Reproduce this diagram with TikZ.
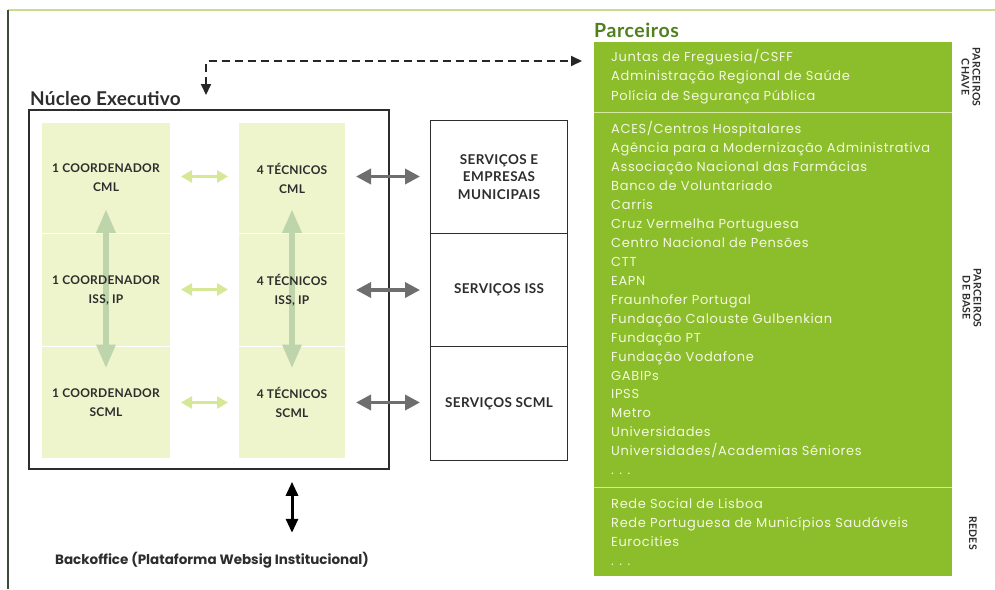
\documentclass[tikz,border=0pt]{standalone}
\usepackage{fontspec}
\setmainfont{Lato}
\newfontfamily\geo{Poppins}
\usetikzlibrary{arrows.meta}
\definecolor{panelgreen}{RGB}{139,190,42}
\definecolor{titlegreen}{RGB}{80,128,30}
\definecolor{cellfill}{RGB}{238,244,204}
\definecolor{lightarr}{RGB}{214,232,150}
\definecolor{varr}{RGB}{190,212,170}
\definecolor{grayarr}{RGB}{110,110,110}
\definecolor{paneltext}{RGB}{244,248,224}
\definecolor{divider}{RGB}{214,232,160}
\definecolor{framegreen}{RGB}{200,220,140}
\definecolor{framedark}{RGB}{60,75,60}
\definecolor{inkdark}{RGB}{45,45,45}
\tikzset{
  cell/.style={fill=cellfill, draw=white, line width=1, inner sep=0, anchor=north west, minimum width=#1},
  ctext/.style={align=center, text=inkdark, inner sep=0, font=\bfseries\addfontfeatures{LetterSpace=2}\fontsize{12}{19}\selectfont},
  svc/.style={draw=inkdark, line width=1.1, inner sep=0, anchor=north west, minimum width=137, align=center, text=inkdark, font=\bfseries\addfontfeatures{LetterSpace=3}\fontsize{13.5}{17.5}\selectfont},
  ptext/.style={anchor=west, inner sep=0, text height=9, text depth=3, text=paneltext, font=\geo\addfontfeatures{LetterSpace=5}\fontsize{13}{14}\selectfont},
  rot/.style={rotate=-90, align=center, inner sep=0, text=inkdark, font=\bfseries\addfontfeatures{LetterSpace=3}\fontsize{10.5}{11}\selectfont},
  lightarrow/.style={lightarr, line width=3.5, shorten <=10, shorten >=10, {Triangle[length=11,width=12]}-{Triangle[length=11,width=12]}},
  grayarrow/.style={grayarr, line width=3.5, shorten <=10, shorten >=10, {Triangle[length=15,width=15]}-{Triangle[length=15,width=15]}},
  varrow/.style={varr, line width=6, {Triangle[length=24,width=18]}-{Triangle[length=24,width=18]}},
  blkarrow/.style={black, line width=3, {Triangle[length=14,width=12]}-{Triangle[length=14,width=12]}},
  dasharrow/.style={black!85, line width=2, dash pattern=on 8pt off 5pt, {Triangle[length=11,width=10]}-{Triangle[length=11,width=10]}},
}
\begin{document}
\begin{tikzpicture}[x=1pt,y=-1pt]
\useasboundingbox (0,0) rectangle (995,589);
\fill[white] (0,0) rectangle (995,589);
% outer frame
\draw[framegreen, line width=1.5] (8,10) -- (995,10);
\draw[framedark, line width=1.5] (8,10) -- (8,589);

% Nucleo executivo
\node[anchor=west, inner sep=0, text=inkdark, font=\bfseries\addfontfeatures{LetterSpace=1}\fontsize{19}{21}\selectfont] (ntitle) at (30,99) {Núcleo Executivo};
\node[draw=inkdark, line width=1.8, inner sep=0, anchor=north west, minimum width=360, minimum height=359] (nucleo) at (28,109) {};

\node[cell=129, minimum height=111] (c1) at (41,122) {};
\node[cell=129, minimum height=113] (c2) at (41,233) {};
\node[cell=129, minimum height=112] (c3) at (41,346) {};
\node[cell=107, minimum height=111] (t1) at (238,122) {};
\node[cell=107, minimum height=113] (t2) at (238,233) {};
\node[cell=107, minimum height=112] (t3) at (238,346) {};

\draw[varrow] ([yshift=-31pt]c1.center) -- ([yshift=34pt]c3.center);
\draw[varrow] ([yshift=-31pt]t1.center) -- ([yshift=34pt]t3.center);

\node[ctext] (c1t) at (c1.center) {1 COORDENADOR\\CML};
\node[ctext] (c2t) at (c2.center) {1 COORDENADOR\\ISS, IP};
\node[ctext] (c3t) at (c3.center) {1 COORDENADOR\\SCML};
\node[ctext] (t1t) at (t1.center) {4 TÉCNICOS\\CML};
\node[ctext] (t2t) at (t2.center) {4 TÉCNICOS\\ISS, IP};
\node[ctext] (t3t) at (t3.center) {4 TÉCNICOS\\SCML};

\draw[lightarrow] ([yshift=1.5pt]c1.east) -- ([yshift=1.5pt]c1.east -| t1.west);
\draw[lightarrow] ([yshift=0.5pt]c2.east) -- ([yshift=0.5pt]c2.east -| t2.west);
\draw[lightarrow] (c3.east) -- (c3.east -| t3.west);

% services
\node[svc, minimum height=113] (s1) at (430,120) {SERVIÇOS E\\EMPRESAS\\MUNICIPAIS};
\node[svc, minimum height=113] (s2) at (430,233) {SERVIÇOS ISS};
\node[svc, minimum height=114] (s3) at (430,346) {SERVIÇOS SCML};

\draw[grayarrow] ([yshift=1.5pt]t1.east) -- ([yshift=1.5pt]t1.east -| s1.west);
\draw[grayarrow] (t2.east) -- (t2.east -| s2.west);
\draw[grayarrow] (t3.east) -- (t3.east -| s3.west);

% backoffice
\node[inner sep=0, text=inkdark, font=\geo\bfseries\fontsize{13.5}{15}\selectfont] (bo) at (212,560) {Backoffice (Plataforma Websig Institucional)};
\path (t3.south |- nucleo.south) coordinate (bo1);
\path (t3.south |- bo.north) coordinate (bo2);
\draw[blkarrow] ([yshift=-12pt]bo1) -- ([yshift=19pt]bo2);

% Parceiros
\node[anchor=west, inner sep=0, text=titlegreen, font=\bfseries\addfontfeatures{LetterSpace=3}\fontsize{19.5}{21}\selectfont] (ptitle) at (594,30) {Parceiros};
\node[fill=panelgreen, inner sep=0, anchor=north west, minimum width=358, minimum height=534] (panel) at (594,42) {};
\draw[divider, line width=0.9] (594,112) -- (952,112);
\draw[divider, line width=0.9] (594,487) -- (952,487);

\coordinate (dd) at (206,95);
\coordinate (dr) at (582,61);
\draw[dasharrow] (dd) |- (dr);

\node[ptext] (p1) at (611,58) {Juntas de Freguesia/CSFF};
\node[ptext] (p2) at (611,77.5) {Administração Regional de Saúde};
\node[ptext] (p3) at (611,97) {Polícia de Segurança Pública};
\node[ptext] (p4) at (611,130) {ACES/Centros Hospitalares};
\node[ptext] (p5) at (611,149) {Agência para a Modernização Administrativa};
\node[ptext] (p6) at (611,168) {Associação Nacional das Farmácias};
\node[ptext] (p7) at (611,187) {Banco de Voluntariado};
\node[ptext] (p8) at (611,206) {Carris};
\node[ptext] (p9) at (611,225) {Cruz Vermelha Portuguesa};
\node[ptext] (p10) at (611,244) {Centro Nacional de Pensões};
\node[ptext] (p11) at (611,263) {CTT};
\node[ptext] (p12) at (611,282) {EAPN};
\node[ptext] (p13) at (611,301) {Fraunhofer Portugal};
\node[ptext] (p14) at (611,320) {Fundação Calouste Gulbenkian};
\node[ptext] (p15) at (611,339) {Fundação PT};
\node[ptext] (p16) at (611,358) {Fundação Vodafone};
\node[ptext] (p17) at (611,377) {GABIPs};
\node[ptext] (p18) at (611,395.5) {IPSS};
\node[ptext] (p19) at (611,414) {Metro};
\node[ptext] (p20) at (611,433) {Universidades};
\node[ptext] (p21) at (611,452) {Universidades/Academias Séniores};
\node[ptext] (p22) at (611,471) {. . .};
\node[ptext] (p23) at (611,505) {Rede Social de Lisboa};
\node[ptext] (p24) at (611,524) {Rede Portuguesa de Municípios Saudáveis};
\node[ptext] (p25) at (611,543) {Eurocities};
\node[ptext] (p26) at (611,562) {. . .};

\node[rot] (lk) at (971,77) {PARCEIROS\\CHAVE};
\node[rot] (lb) at (972,298) {PARCEIROS\\DE BASE};
\node[rot] (lr) at (973,533) {REDES};
\end{tikzpicture}
\end{document}
